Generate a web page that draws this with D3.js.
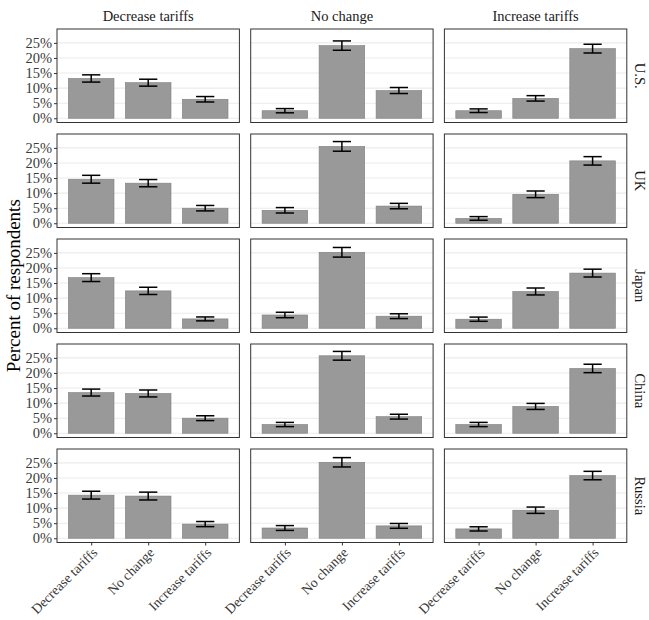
<!DOCTYPE html>
<html>
<head>
<meta charset="utf-8">
<script src="https://cdn.jsdelivr.net/npm/d3@7"></script>
<style>
  html, body { margin: 0; padding: 0; background: #fff; }
  svg { display: block; font-family: "Liberation Serif", "Times New Roman", serif; }
</style>
</head>
<body>
<div id="chart"></div>
<script>
// facet rows / columns and x categories
const countries = ['U.S.', 'UK', 'Japan', 'China', 'Russia'];
const columns = ['Decrease tariffs', 'No change', 'Increase tariffs'];
const answers = ['Decrease tariffs', 'No change', 'Increase tariffs'];
const yTicks = [0, 5, 10, 15, 20, 25];

// percent of respondents, one row per column panel (Decrease / No change / Increase)
const usPct     = [[13.2, 11.8, 6.3], [2.5, 24.1, 9.2], [2.5, 6.6, 23.1]];
const ukPct     = [[14.6, 13.3, 5.0], [4.3, 25.5, 5.7], [1.6, 9.6, 20.7]];
const japanPct  = [[16.8, 12.4, 3.1], [4.4, 25.2, 4.0], [3.0, 12.2, 18.3]];
const chinaPct  = [[13.5, 13.2, 5.0], [2.9, 25.7, 5.5], [2.9, 8.9, 21.5]];
const russiaPct = [[14.3, 14.0, 4.7], [3.4, 25.2, 4.1], [3.1, 9.3, 20.8]];

// half-width of the error bars, same layout
const usErr     = [[1.2, 1.15, 0.9], [0.7, 1.55, 1.0], [0.6, 0.9, 1.45]];
const ukErr     = [[1.3, 1.2, 0.9], [0.9, 1.6, 0.9], [0.6, 1.1, 1.4]];
const japanErr  = [[1.3, 1.2, 0.65], [0.9, 1.6, 0.8], [0.7, 1.15, 1.3]];
const chinaErr  = [[1.15, 1.15, 0.8], [0.7, 1.45, 0.8], [0.7, 1.0, 1.4]];
const russiaErr = [[1.3, 1.3, 0.85], [0.8, 1.55, 0.8], [0.7, 1.05, 1.4]];

const pctByCountry = [usPct, ukPct, japanPct, chinaPct, russiaPct];
const errByCountry = [usErr, ukErr, japanErr, chinaErr, russiaErr];

const width = 649, height = 620;
const marginLeft = 57, marginTop = 29;
const panelW = 182.4, panelH = 93.5;
const gapX = 11.3, gapY = 11.5;

const svg = d3.select('#chart').append('svg')
    .attr('width', width)
    .attr('height', height);

const x = d3.scalePoint()
    .domain(answers)
    .range([0, panelW])
    .padding(0.6);
const step = x.step();

// ggplot style 5% expansion on [0, 28.2]
const y = d3.scaleLinear()
    .domain([-1.41, 29.61])
    .range([panelH, 0]);

countries.forEach((country, r) => {
    columns.forEach((col, c) => {
        const px = marginLeft + c * (panelW + gapX);
        const py = marginTop + r * (panelH + gapY);
        const g = svg.append('g').attr('transform', `translate(${px},${py})`);

        const data = answers.map((a, i) => ({
            answer: a,
            pct: pctByCountry[r][c][i],
            err: errByCountry[r][c][i]
        }));

        // grid
        g.selectAll('line.grid')
            .data(yTicks)
            .join('line')
            .attr('class', 'grid')
            .attr('x1', 0).attr('x2', panelW)
            .attr('y1', d => y(d)).attr('y2', d => y(d))
            .attr('stroke', '#ebebeb')
            .attr('stroke-width', 1.1);

        // bars
        g.selectAll('rect.bar')
            .data(data)
            .join('rect')
            .attr('class', 'bar')
            .attr('x', d => x(d.answer) - step * 0.4)
            .attr('width', step * 0.8)
            .attr('y', d => y(d.pct))
            .attr('height', d => y(0) - y(d.pct))
            .attr('fill', '#999999')
            .attr('stroke', '#7f7f7f')
            .attr('stroke-width', 0.6);

        // error bars
        const capW = step * 0.16;
        const eb = g.selectAll('g.err')
            .data(data)
            .join('g')
            .attr('class', 'err')
            .attr('stroke', '#000')
            .attr('stroke-width', 1.5);
        eb.append('line')
            .attr('x1', d => x(d.answer)).attr('x2', d => x(d.answer))
            .attr('y1', d => y(d.pct - d.err)).attr('y2', d => y(d.pct + d.err));
        eb.append('line')
            .attr('x1', d => x(d.answer) - capW).attr('x2', d => x(d.answer) + capW)
            .attr('y1', d => y(d.pct + d.err)).attr('y2', d => y(d.pct + d.err));
        eb.append('line')
            .attr('x1', d => x(d.answer) - capW).attr('x2', d => x(d.answer) + capW)
            .attr('y1', d => y(d.pct - d.err)).attr('y2', d => y(d.pct - d.err));

        // panel border
        g.append('rect')
            .attr('width', panelW)
            .attr('height', panelH)
            .attr('fill', 'none')
            .attr('stroke', '#333333')
            .attr('stroke-width', 1);

        // left axis on first column
        if (c === 0) {
            const ax = g.append('g')
                .call(d3.axisLeft(y).tickValues(yTicks).tickSize(3).tickPadding(2).tickFormat(d => `${d}%`));
            ax.select('.domain').remove();
            ax.selectAll('line').attr('stroke', '#333333');
            ax.selectAll('text')
                .attr('font-family', '"Liberation Serif", serif')
                .attr('font-size', '14.5px')
                .attr('fill', '#3a3a3a');
        }

        // bottom axis on last row
        if (r === countries.length - 1) {
            const ax = g.append('g')
                .attr('transform', `translate(0,${panelH})`)
                .call(d3.axisBottom(x).tickSize(3).tickFormat(''));
            ax.select('.domain').remove();
            ax.selectAll('line').attr('stroke', '#333333');
            g.selectAll('text.xlab')
                .data(answers)
                .join('text')
                .attr('class', 'xlab')
                .attr('transform', d => `translate(${x(d) + 7},${panelH + 11}) rotate(-45)`)
                .attr('text-anchor', 'end')
                .attr('font-size', '13.8px')
                .attr('fill', '#3a3a3a')
                .text(d => d);
        }

        // top strip
        if (r === 0) {
            g.append('text')
                .attr('x', panelW / 2)
                .attr('y', -8)
                .attr('text-anchor', 'middle')
                .attr('font-size', '14.5px')
                .attr('fill', '#1a1a1a')
                .text(col);
        }

        // right strip
        if (c === columns.length - 1) {
            g.append('text')
                .attr('transform', `translate(${panelW + 13},${panelH / 2}) rotate(90)`)
                .attr('text-anchor', 'middle')
                .attr('dominant-baseline', 'central')
                .attr('font-size', '14.5px')
                .attr('fill', '#1a1a1a')
                .text(country);
        }
    });
});

// y axis title
const plotMid = marginTop + (countries.length * panelH + (countries.length - 1) * gapY) / 2;
svg.append('text')
    .attr('transform', `translate(13,${plotMid}) rotate(-90)`)
    .attr('text-anchor', 'middle')
    .attr('dominant-baseline', 'central')
    .attr('font-size', '19px')
    .attr('fill', '#000')
    .text('Percent of respondents');
</script>
</body>
</html>
